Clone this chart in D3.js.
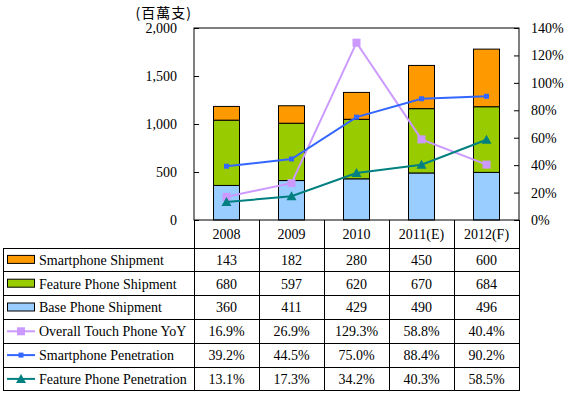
<!DOCTYPE html>
<html>
<head>
<meta charset="utf-8">
<script src="https://cdnjs.cloudflare.com/ajax/libs/d3/7.8.5/d3.min.js"></script>
<style>
  body { margin: 0; background: #fff; }
  svg { display: block; }
  text { font-family: "Liberation Serif", "Times New Roman", serif; font-size: 14px; fill: #000; }
  .cjk { font-family: "Noto Sans CJK TC", sans-serif; font-size: 14px; letter-spacing: 1px; }
</style>
</head>
<body>
<svg width="565" height="394"></svg>
<script>
var years = ["2008", "2009", "2010", "2011(E)", "2012(F)"];
var smartShip = [143, 182, 280, 450, 600];
var featureShip = [680, 597, 620, 670, 684];
var baseShip = [360, 411, 429, 490, 496];
var touchYoY = [16.9, 26.9, 129.3, 58.8, 40.4];
var smartPen = [39.2, 44.5, 75.0, 88.4, 90.2];
var featurePen = [13.1, 17.3, 34.2, 40.3, 58.5];
var leftTicks = [0, 500, 1000, 1500, 2000];
var rightTicks = [0, 20, 40, 60, 80, 100, 120, 140];

var svg = d3.select("svg"),
    margin = { top: 28, left: 194, right: 46 },
    width = 565 - margin.left - margin.right,
    plotBottom = 220;

var x = d3.scaleBand().domain(years).range([margin.left, margin.left + width]),
    y = d3.scaleLinear().domain([0, 2000]).range([plotBottom, margin.top]),
    y2 = d3.scaleLinear().domain([0, 140]).range([plotBottom, margin.top]);

var barW = x.bandwidth() * 0.4;

// stacked bars: base, feature, smart
var stackData = years.map(function(d, i) {
    return { year: d, base: baseShip[i], feature: featureShip[i], smart: smartShip[i] };
});
var stack = d3.stack().keys(["base", "feature", "smart"])(stackData);
var barColors = { base: "#99ccff", feature: "#99cc00", smart: "#ff9900" };

svg.append("g").selectAll("g")
    .data(stack)
    .enter().append("g")
    .attr("fill", function(d) { return barColors[d.key]; })
    .selectAll("rect")
    .data(function(d) { return d; })
    .enter().append("rect")
    .attr("x", function(d) { return x(d.data.year) + (x.bandwidth() - barW) / 2; })
    .attr("y", function(d) { return y(d[1]); })
    .attr("width", barW)
    .attr("height", function(d) { return y(d[0]) - y(d[1]); })
    .attr("stroke", "#000")
    .attr("stroke-width", 1);

// axes
var axL = svg.append("g")
    .attr("transform", "translate(" + margin.left + ",0)")
    .call(d3.axisLeft(y).tickValues(leftTicks).tickSize(-5).tickPadding(17).tickFormat(d3.format(",")));
var axR = svg.append("g")
    .attr("transform", "translate(" + (margin.left + width) + ",0)")
    .call(d3.axisRight(y2).tickValues(rightTicks).tickSize(-5).tickPadding(12).tickFormat(function(d) { return d + "%"; }));
[axL, axR].forEach(function(a) {
    a.select(".domain").remove();
    a.selectAll("line").attr("stroke", "#000");
    a.selectAll("text").attr("font-family", null).attr("font-size", null);
});
// plot frame
svg.append("rect")
    .attr("x", margin.left).attr("y", margin.top)
    .attr("width", width).attr("height", plotBottom - margin.top)
    .attr("fill", "none").attr("stroke", "#000");

svg.append("text").attr("class", "cjk")
    .attr("x", 192).attr("y", 18)
    .attr("text-anchor", "end")
    .text("(百萬支)");

// lines
var cx = function(i) { return x(years[i]) + x.bandwidth() / 2; };
var lineSeries = [
    { name: "Overall Touch Phone YoY", values: touchYoY, color: "#cc99ff", marker: "bigsquare" },
    { name: "Smartphone Penetration", values: smartPen, color: "#3366ff", marker: "square" },
    { name: "Feature Phone Penetration", values: featurePen, color: "#008080", marker: "triangle" }
];
var line = d3.line()
    .x(function(d, i) { return cx(i); })
    .y(function(d) { return y2(d); });

function drawMarker(g, type, color) {
    if (type === "bigsquare") {
        g.append("rect").attr("x", -4).attr("y", -4).attr("width", 8).attr("height", 8).attr("fill", color);
    } else if (type === "square") {
        g.append("rect").attr("x", -2.5).attr("y", -2.5).attr("width", 5).attr("height", 5).attr("fill", color);
    } else {
        g.append("path").attr("d", "M0,-5L5,4L-5,4Z").attr("fill", color);
    }
}

lineSeries.forEach(function(s) {
    svg.append("path")
        .datum(s.values)
        .attr("d", line)
        .attr("fill", "none")
        .attr("stroke", s.color)
        .attr("stroke-width", 2);
    s.values.forEach(function(v, i) {
        var g = svg.append("g").attr("transform", "translate(" + cx(i) + "," + y2(v) + ")");
        drawMarker(g, s.marker, s.color);
    });
});

// data table
var rowTop = 248, rowH = 23.8, tableLeft = 3, headTop = plotBottom;
var rows = [
    { name: "Smartphone Shipment", values: smartShip, type: "bar", color: barColors.smart },
    { name: "Feature Phone Shipment", values: featureShip, type: "bar", color: barColors.feature },
    { name: "Base Phone Shipment", values: baseShip, type: "bar", color: barColors.base }
].concat(lineSeries.map(function(s) { return { name: s.name, values: s.values, type: "line", color: s.color, marker: s.marker }; }));
var tableBottom = rowTop + rowH * rows.length;

var grid = svg.append("g").attr("stroke", "#000").attr("stroke-width", 1).attr("shape-rendering", "crispEdges");
years.forEach(function(d, i) {
    grid.append("line").attr("x1", x(d)).attr("x2", x(d)).attr("y1", headTop).attr("y2", tableBottom);
});
grid.append("line").attr("x1", margin.left + width).attr("x2", margin.left + width).attr("y1", headTop).attr("y2", tableBottom);
grid.append("line").attr("x1", tableLeft).attr("x2", tableLeft).attr("y1", rowTop).attr("y2", tableBottom);
d3.range(rows.length + 1).forEach(function(r) {
    var yy = rowTop + r * rowH;
    grid.append("line").attr("x1", tableLeft).attr("x2", margin.left + width).attr("y1", yy).attr("y2", yy);
});

svg.append("g").selectAll("text")
    .data(years)
    .enter().append("text")
    .attr("x", function(d, i) { return cx(i); })
    .attr("y", (headTop + rowTop) / 2)
    .attr("dy", "0.35em")
    .attr("text-anchor", "middle")
    .text(function(d) { return d; });

rows.forEach(function(r, ri) {
    var my = rowTop + ri * rowH + rowH / 2;
    var lg = svg.append("g");
    if (r.type === "bar") {
        lg.append("rect").attr("x", 7.5).attr("y", my - 4.5).attr("width", 27).attr("height", 8)
            .attr("fill", r.color).attr("stroke", "#000");
    } else {
        lg.append("line").attr("x1", 7).attr("x2", 35).attr("y1", my).attr("y2", my)
            .attr("stroke", r.color).attr("stroke-width", 2);
        drawMarker(lg.append("g").attr("transform", "translate(21," + my + ")"), r.marker, r.color);
    }
    lg.append("text").attr("x", 39).attr("y", my).attr("dy", "0.35em").text(r.name);
    r.values.forEach(function(v, i) {
        svg.append("text")
            .attr("x", cx(i)).attr("y", my).attr("dy", "0.35em")
            .attr("text-anchor", "middle")
            .text(r.type === "bar" ? v : d3.format(".1f")(v) + "%");
    });
});
</script>
</body>
</html>
